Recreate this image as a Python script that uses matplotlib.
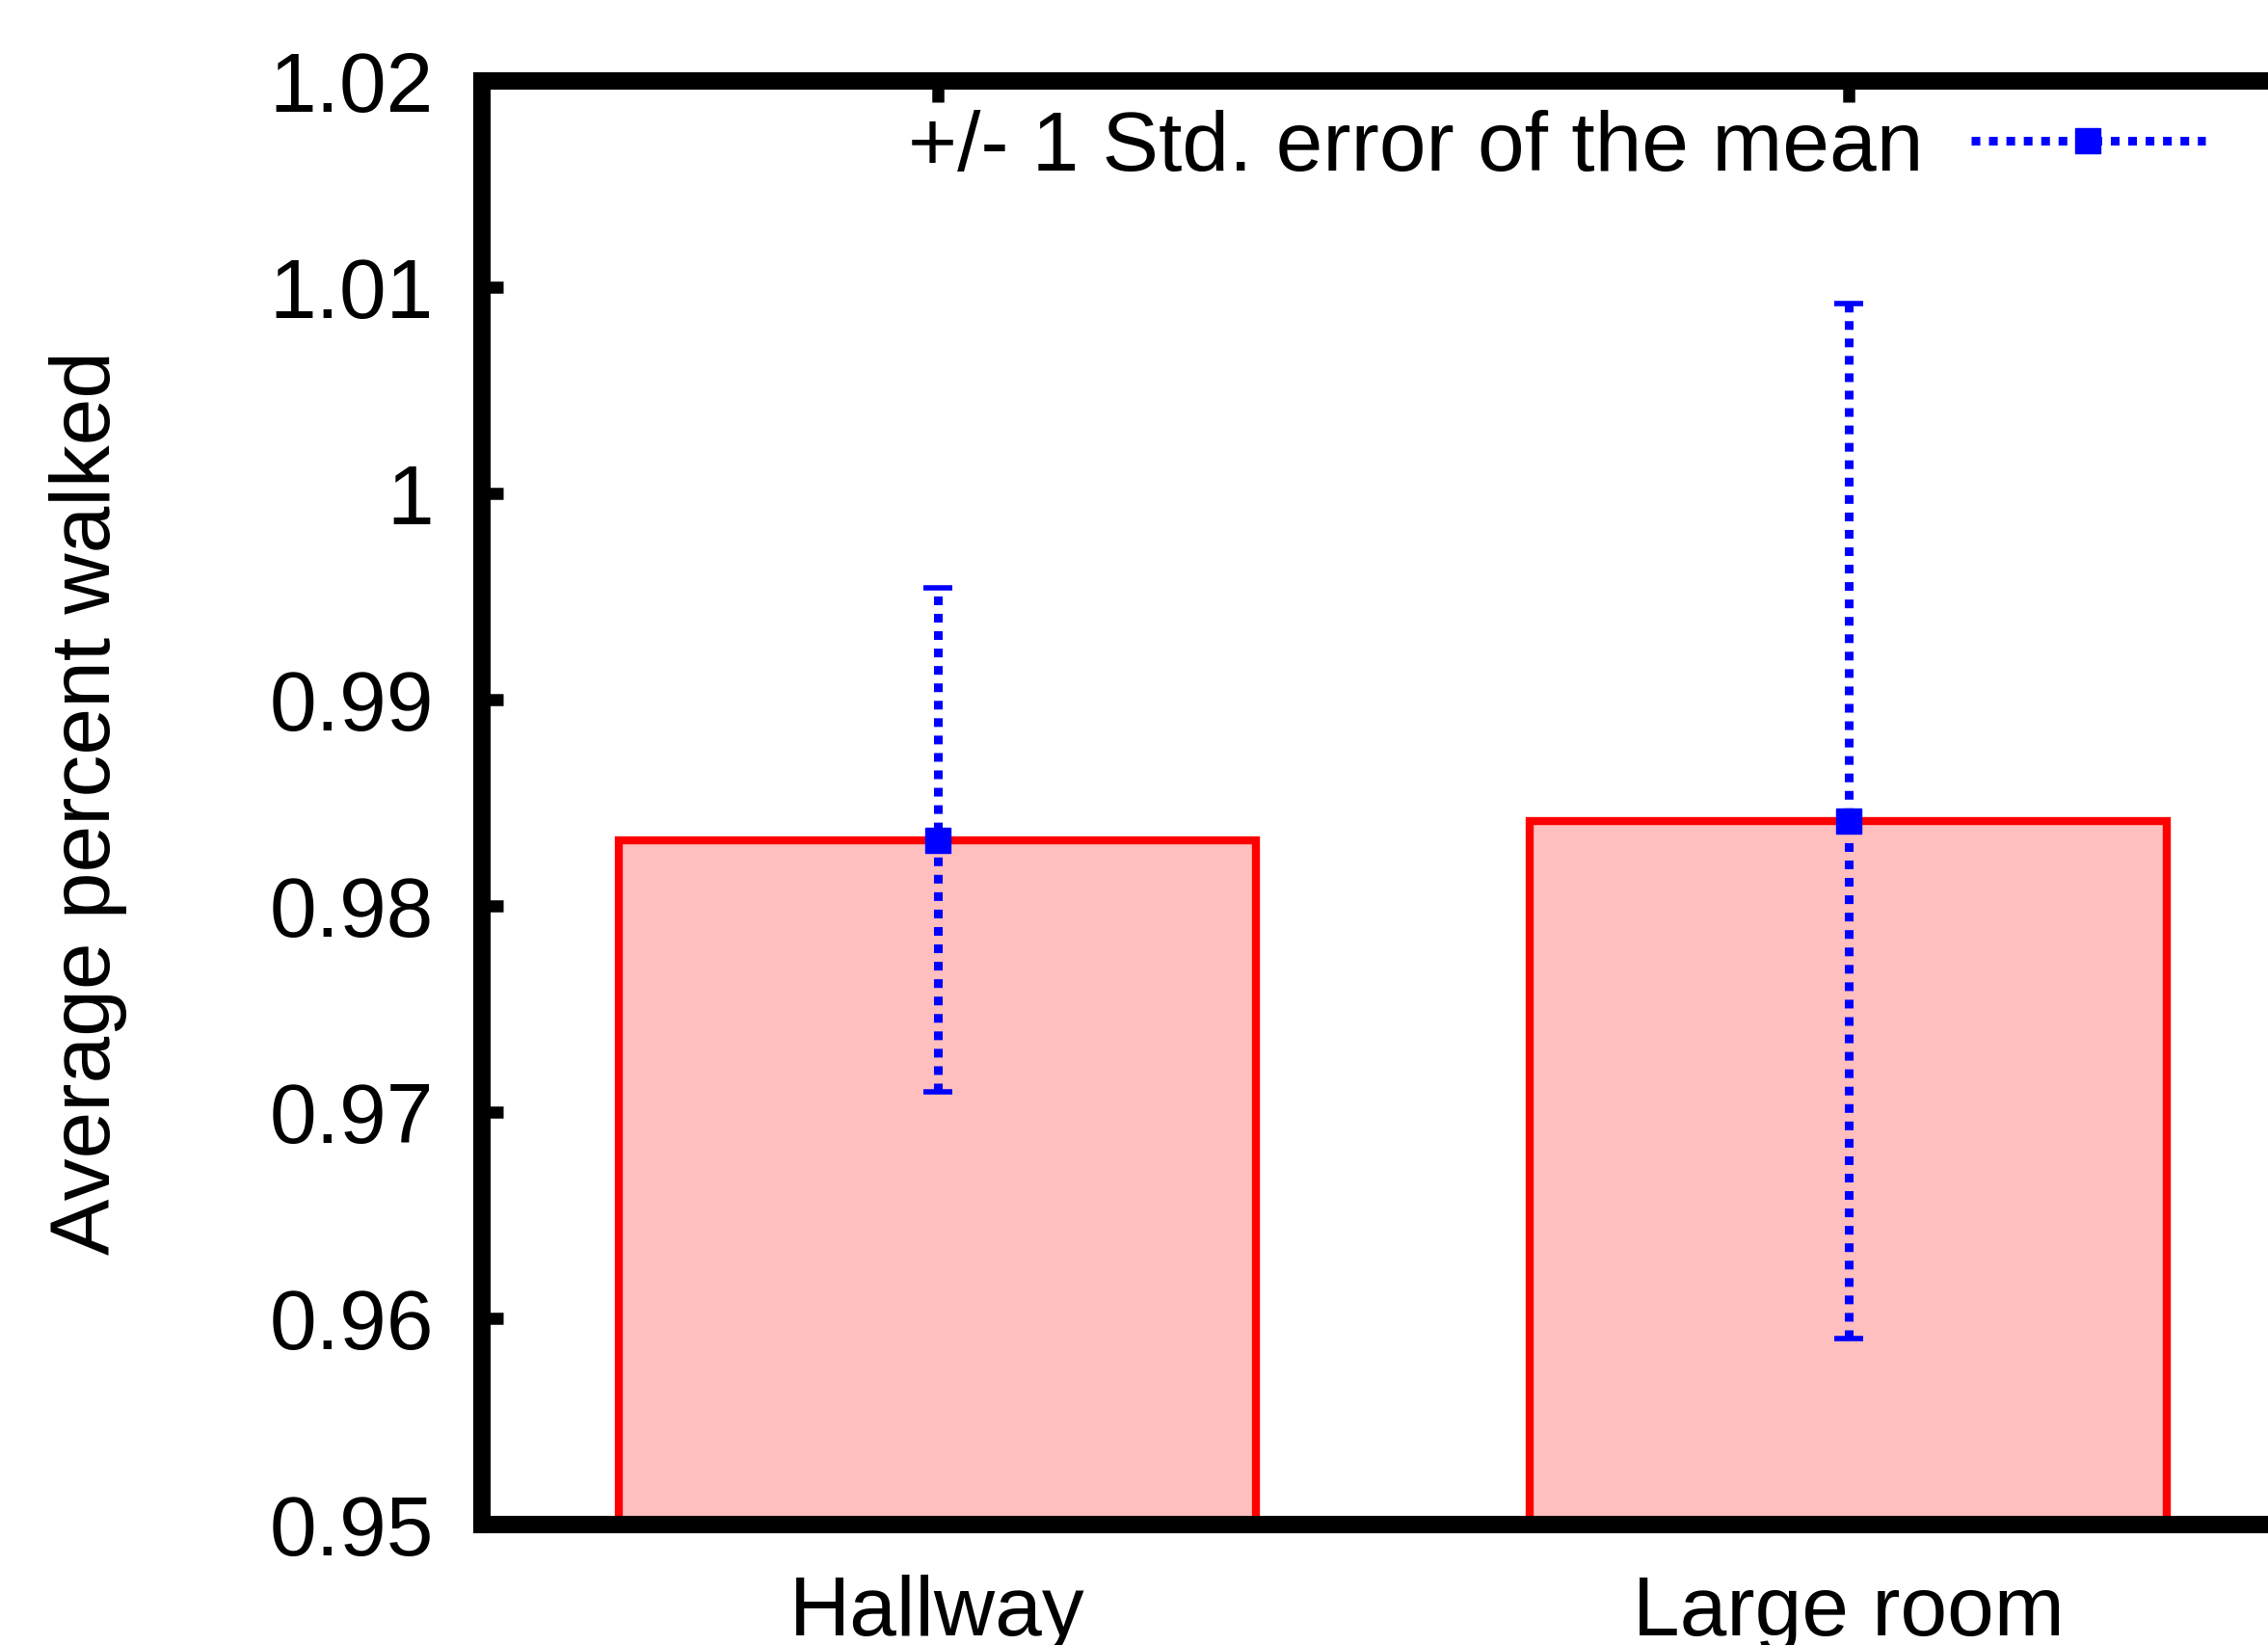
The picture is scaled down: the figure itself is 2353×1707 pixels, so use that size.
import matplotlib
matplotlib.use("Agg")
import matplotlib.pyplot as plt
from matplotlib.lines import Line2D

plt.rcParams['font.family'] = ['Liberation Sans', 'DejaVu Sans']

# data
rooms = ['Hallway', 'Large room']
walked = [0.9832, 0.9841]
sem = [0.0122, 0.0251]
yticks = [0.95, 0.96, 0.97, 0.98, 0.99, 1.00, 1.01, 1.02]
ytick_labels = ['0.95', '0.96', '0.97', '0.98', '0.99', '1', '1.01', '1.02']
legend_text = '+/- 1 Std. error of the mean'

FS = 63
fig = plt.figure(figsize=(23.53, 17.08), dpi=100)
# axes run off the right edge, like the reference crop
ax = fig.add_axes([500 / 2353, 1 - 1583 / 1708, 1890 / 2353, 1498 / 1708])

xs = list(range(len(rooms)))
ax.bar(xs, walked, width=0.7, color='#ffbfbf', edgecolor='#ff0000',
       linewidth=6, zorder=1)

eb = ax.errorbar(xs, walked, yerr=sem, fmt='s', color='#0000ff', ms=19,
                 elinewidth=6.5, capsize=11, capthick=4, zorder=3)
for coll in eb[2]:
    coll.set_linestyle((0, (1, 1)))
    coll.set_capstyle('butt')
for cap in eb[1]:
    cap.set_markeredgewidth(4)

ax.set_xlim(-0.5, 1.5)
ax.set_ylim(0.95, 1.02)
ax.set_yticks(yticks, ytick_labels)
ax.set_xticks(xs, rooms)

for sp in ax.spines.values():
    sp.set_linewidth(13)
    sp.set_zorder(5)

ax.tick_params(axis='y', direction='in', length=16, width=9,
               labelsize=FS, pad=36, right=False)
ax.tick_params(axis='x', direction='in', length=16, width=9,
               labelsize=FS, pad=37, top=True, bottom=False)

fig.text(92 / 2353, 1 - 833 / 1708, 'Average percent walked',
         rotation=90, ha='center', va='center', fontsize=FS)

handle = Line2D([], [], color='#0000ff', linestyle=(0, (1, 1)),
                linewidth=6.5, marker='s', ms=19,
                dash_capstyle='butt')
fig.legend([handle], [legend_text], loc='center right',
           bbox_to_anchor=(2288 / 2353, 1 - 155 / 1708),
           frameon=False, fontsize=FS, markerfirst=False,
           handlelength=2.78, handletextpad=0.57, borderpad=0,
           borderaxespad=0, numpoints=1)

fig.savefig('out.png', dpi=100)
